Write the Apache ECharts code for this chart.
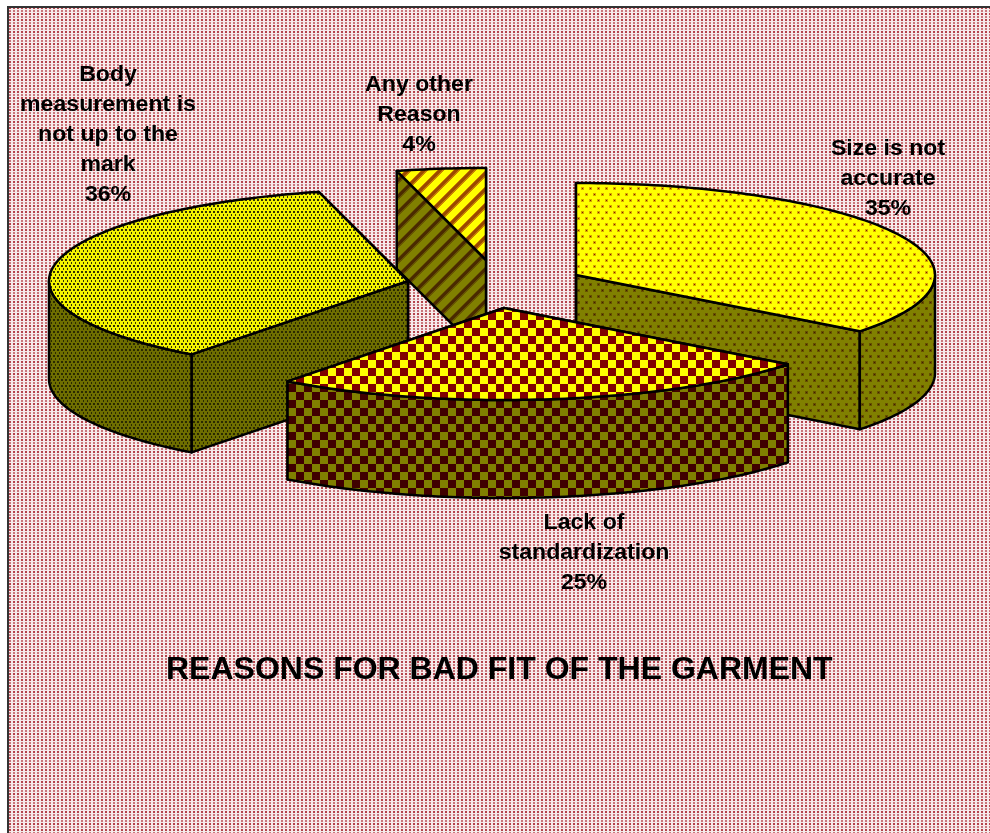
<!DOCTYPE html>
<html><head><meta charset="utf-8">
<style>html,body{margin:0;padding:0;background:#fff}#c{width:990px;height:833px}</style>
<script src="https://cdn.jsdelivr.net/npm/echarts@6/dist/echarts.min.js"></script>
</head><body><div id="c"></div>
<script>
// ---- data (clockwise from 12 o'clock) ----
const categories = ['Size is not\naccurate', 'Lack of\nstandardization', 'Body\nmeasurement is\nnot up to the\nmark', 'Any other\nReason'];
const percentValues = [35.49, 24.81, 35.7, 4];
const chartTitle = 'REASONS FOR BAD FIT OF THE GARMENT';

// ---- layout (separate from the data) ----
const RX = 359, RY = 92, DEPTH = 98;
const sliceCentres = [[576,275],[504,308],[408,281],[486,260]];
const labelAnchors = [[888,179],[584,553],[108,135],[419,115]];
const drawOrder = [3,2,0,1];

function tile(w,h,draw){const c=document.createElement('canvas');c.width=w;c.height=h;draw(c.getContext('2d'),w,h);return {image:c,repeat:'repeat'};}
function px(g,x,y,s,col){g.fillStyle=col;g.fillRect(x,y,s,s);}
function dots(bg,core,halo,w,h,pts,s){return tile(w,h,(g)=>{g.fillStyle=bg;g.fillRect(0,0,w,h);pts.forEach(p=>{if(halo)px(g,p[0]-1,p[1]-1,s+2,halo);px(g,p[0],p[1],s,core);});});}
function checker(a,b,n){return tile(n*2,n*2,(g)=>{g.fillStyle=a;g.fillRect(0,0,n*2,n*2);g.fillStyle=b;g.fillRect(0,0,n,n);g.fillRect(n,n,n,n);});}
function stripes(a,b,mid,p){return tile(p,p,(g)=>{for(let y=0;y<p;y++)for(let x=0;x<p;x++){const t=(x+y)%p;g.fillStyle=t<p*0.25?b:(t<p*0.37||t>p*0.88?mid:a);g.fillRect(x,y,1,1);}});}
const bgPattern = tile(4,6,(g)=>{g.fillStyle='#f6eaea';g.fillRect(0,0,4,6);
  px(g,1,1,2,'#b5434b');px(g,1,4,2,'#c9767b');});
const patterns = [
  {top:dots('#ffff00','#802000','#d8a800',8,12,[[2,2],[6,8]],1), wall:dots('#808000','#402000','#665000',8,12,[[2,2],[6,8]],1)},
  {top:checker('#ffff00','#800000',8), wall:checker('#808000','#400000',8)},
  {top:dots('#f4f400','#333300',null,4,6,[[1,1],[3,4]],2), wall:dots('#6e6e00','#2a2a00',null,4,6,[[1,1],[3,4]],2)},
  {top:stripes('#ffff00','#9a4a00','#c88000',16), wall:stripes('#808000','#4a2a00','#665500',16)}
];

const boundaries=[0];percentValues.forEach((v,i)=>boundaries.push(boundaries[i]+v));
const total=boundaries[percentValues.length];

function renderItem(params,api){
  const i=api.value(0), v=api.value(1);
  const a0=boundaries[i]/total*2*Math.PI, a1=(boundaries[i]+v)/total*2*Math.PI;
  const c=sliceCentres[i];
  const pt=(a)=>[c[0]+RX*Math.sin(a),c[1]-RY*Math.cos(a)];
  const down=(p)=>[p[0],p[1]+DEPTH];
  const arc=(s,e)=>{const n=Math.max(2,Math.ceil((e-s)/0.02));const o=[];for(let k=0;k<=n;k++)o.push(pt(s+(e-s)*k/n));return o;};
  const st={stroke:'#000',lineWidth:2.5,lineJoin:'round'};
  const poly=(points,fill)=>({type:'polygon',shape:{points},style:Object.assign({fill},st)});
  const kids=[];
  const ps=patterns[i];
  const p0=pt(a0),p1=pt(a1);
  kids.push(poly([c,p1,down(p1),down(c)],ps.wall));
  kids.push(poly([c,p0,down(p0),down(c)],ps.wall));
  const f0=Math.max(a0,Math.PI/2),f1=Math.min(a1,3*Math.PI/2);
  if(f1>f0){const top=arc(f0,f1);kids.push(poly(top.concat(top.slice().reverse().map(down)),ps.wall));}
  kids.push(poly([c].concat(arc(a0,a1)),ps.top));
  const la=labelAnchors[i];
  kids.push({type:'text',x:la[0],y:la[1],originX:0,originY:0,scaleX:1.05,z2:100,
    style:{text:categories[i]+'\n'+Math.round(v)+'%',x:0,y:0,align:'center',verticalAlign:'middle',
      font:'bold 22px "Liberation Sans", Arial, sans-serif',lineHeight:30,fill:'#000'}});
  return {type:'group',children:kids};
}

const chart=echarts.init(document.getElementById('c'),null,{renderer:'canvas',width:990,height:833});
chart.setOption({
  animation:false,
  backgroundColor:'#ffffff',
  title:{text:chartTitle,left:166,top:654,padding:0,itemGap:0,
    textStyle:{fontFamily:'"Liberation Sans", Arial, sans-serif',fontWeight:'bold',fontSize:32,color:'#000'}},
  graphic:[{type:'rect',z:-10,shape:{x:8,y:7,width:1000,height:850},silent:true,
    style:{fill:bgPattern,stroke:'#333',lineWidth:2}}],
  series:[{type:'custom',coordinateSystem:'none',renderItem,clip:false,silent:true,
    data:drawOrder.map(i=>[i,percentValues[i]])}]
});
</script></body></html>
